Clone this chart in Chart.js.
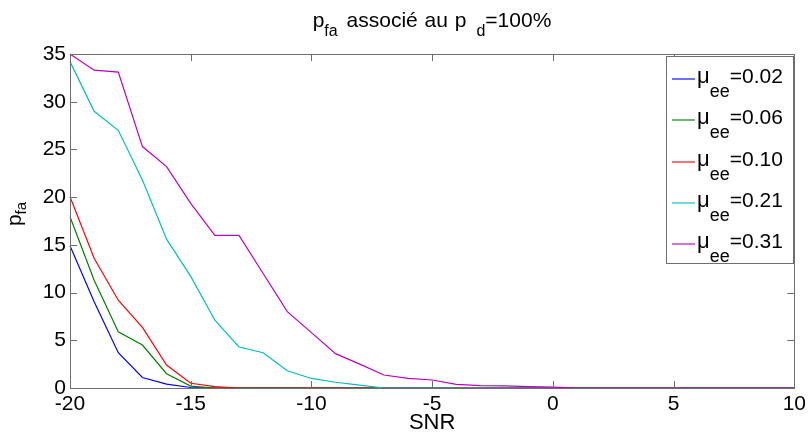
<!DOCTYPE html>
<html>
<head>
<meta charset="utf-8">
<script src="https://cdn.jsdelivr.net/npm/chart.js@4"></script>
<style>
  html, body { margin: 0; padding: 0; background: #fff; }
  #wrap { width: 810px; height: 434px; }
</style>
</head>
<body>
<div id="wrap"><canvas id="c" width="810" height="434"></canvas></div>
<script>
// ---- data ----
const snr = [-20,-19,-18,-17,-16,-15,-14,-13,-12,-11,-10,-9,-8,-7,-6,-5,-4,-3,-2,-1,0,1,2,3,4,5,6,7,8,9,10];
const pfa_002 = [14.9,9.05,3.7,1.1,0.4,0.05,0,0,0,0,0,0,0,0,0,0,0,0,0,0,0,0,0,0,0,0,0,0,0,0,0];
const pfa_006 = [17.95,11.3,5.9,4.5,1.5,0.2,0,0,0,0,0,0,0,0,0,0,0,0,0,0,0,0,0,0,0,0,0,0,0,0,0];
const pfa_010 = [20.05,13.6,9.2,6.35,2.4,0.5,0.15,0,0,0,0,0,0,0,0,0,0,0,0,0,0,0,0,0,0,0,0,0,0,0,0];
const pfa_021 = [34.2,29.0,27.0,21.8,15.6,11.7,7.1,4.3,3.7,1.8,1.0,0.6,0.3,0,0,0,0,0,0,0,0,0,0,0,0,0,0,0,0,0,0];
const pfa_031 = [35,33.3,33.1,25.3,23.2,19.35,16.0,16.0,12.0,8.0,5.8,3.6,2.5,1.36,1.0,0.84,0.38,0.25,0.22,0.15,0.1,0,0,0,0,0,0,0,0,0,0];
const seriesValues = [pfa_002, pfa_006, pfa_010, pfa_021, pfa_031];
const seriesMu = ["0.02","0.06","0.10","0.21","0.31"];
const seriesColors = ["#0000ff","#008000","#ff0000","#00bfbf","#bf00bf"];
const xTicks = [-20,-15,-10,-5,0,5,10];
const yTicks = [0,5,10,15,20,25,30,35];

const FONT = "'Liberation Sans', Arial, Helvetica, sans-serif";

function drawRich(ctx, parts, x, y, align) {
  let total = 0;
  parts.forEach(p => { ctx.font = p.size + "px " + FONT; total += ctx.measureText(p.t).width + (p.gap || 0); });
  let cx = align === 'center' ? x - total / 2 : x;
  ctx.textAlign = 'left';
  ctx.textBaseline = 'alphabetic';
  parts.forEach(p => {
    ctx.font = p.size + "px " + FONT;
    cx += (p.gap || 0);
    ctx.fillText(p.t, cx, y + (p.dy || 0));
    cx += ctx.measureText(p.t).width;
  });
}

const decor = {
  id: 'decor',
  afterDatasetsDraw(chart) {
    const ctx = chart.ctx;
    const a = chart.chartArea;
    const xs = chart.scales.x, ys = chart.scales.y;
    ctx.save();
    // axes box
    ctx.strokeStyle = '#6e6e6e';
    ctx.lineWidth = 1;
    ctx.strokeRect(Math.round(a.left) + 0.5, Math.round(a.top) + 0.5, Math.round(a.right - a.left), Math.round(a.bottom - a.top));
    // inward ticks
    const tl = 7;
    ctx.beginPath();
    xTicks.forEach(v => {
      const px = Math.round(xs.getPixelForValue(v)) + 0.5;
      ctx.moveTo(px, a.bottom); ctx.lineTo(px, a.bottom - tl);
      ctx.moveTo(px, a.top); ctx.lineTo(px, a.top + tl);
    });
    yTicks.forEach(v => {
      const py = Math.round(ys.getPixelForValue(v)) + 0.5;
      ctx.moveTo(a.left, py); ctx.lineTo(a.left + tl, py);
      ctx.moveTo(a.right, py); ctx.lineTo(a.right - tl, py);
    });
    ctx.stroke();

    ctx.fillStyle = '#000';
    // title
    drawRich(ctx, [
      {t: 'p', size: 21}, {t: 'fa', size: 16, dy: 9},
      {t: ' associé', size: 21, gap: 3}, {t: ' au', size: 21, gap: 1}, {t: ' p', size: 21, gap: 1}, {t: 'd', size: 16, dy: 9, gap: 10},
      {t: '=100%', size: 21}
    ], 432, 27, 'center');
    // x label
    drawRich(ctx, [{t: 'SNR', size: 22}], (a.left + a.right) / 2, 429, 'center');
    // y label
    ctx.save();
    ctx.translate(21, 214);
    ctx.rotate(-Math.PI / 2);
    drawRich(ctx, [{t: 'p', size: 21}, {t: 'fa', size: 15, dy: 5}], 0, 0, 'center');
    ctx.restore();

    // legend
    const lx = 666.5, ly = 56.5, lw = 127, lh = 207;
    ctx.fillStyle = '#fff';
    ctx.fillRect(lx, ly, lw, lh);
    ctx.strokeStyle = '#6e6e6e';
    ctx.lineWidth = 1;
    ctx.strokeRect(lx, ly, lw, lh);
    seriesMu.forEach((m, i) => {
      const base = Math.round(83 + i * 41.3);
      ctx.strokeStyle = seriesColors[i];
      ctx.lineWidth = 1.5;
      ctx.globalAlpha = 0.75;
      ctx.beginPath();
      ctx.moveTo(672, base - 4); ctx.lineTo(695, base - 4);
      ctx.stroke();
      ctx.globalAlpha = 1;
      ctx.fillStyle = '#000';
      drawRich(ctx, [{t: 'μ', size: 22}, {t: 'ee', size: 18, dy: 14}, {t: '=' + m, size: 21}], 697, base, 'left');
    });
    ctx.restore();
  }
};

const datasets = seriesValues.map((vals, i) => ({
  label: 'μee=' + seriesMu[i],
  data: snr.map((s, k) => ({x: s, y: vals[k]})),
  borderColor: seriesColors[i],
  backgroundColor: seriesColors[i],
  borderWidth: 1.2,
  pointRadius: 0,
  tension: 0,
  fill: false,
  order: 5 - i,
  clip: 2
}));

new Chart(document.getElementById('c'), {
  type: 'line',
  data: { datasets },
  options: {
    responsive: false,
    animation: false,
    devicePixelRatio: 1,
    layout: { padding: { left: 0, top: 54, right: 13, bottom: 0 } },
    plugins: { legend: { display: false }, tooltip: { enabled: false }, title: { display: false } },
    scales: {
      x: {
        type: 'linear', min: -20, max: 10,
        afterBuildTicks(s) { s.ticks = xTicks.map(v => ({value: v})); },
        afterFit(s) { s.height = 46; },
        grid: { display: false, drawTicks: false },
        border: { display: false },
        ticks: { color: '#000', font: { family: FONT, size: 21 }, padding: 4, maxRotation: 0, autoSkip: false }
      },
      y: {
        type: 'linear', min: 0, max: 35,
        afterBuildTicks(s) { s.ticks = yTicks.map(v => ({value: v})); },
        afterFit(s) { s.width = 70; },
        grid: { display: false, drawTicks: false },
        border: { display: false },
        ticks: { color: '#000', font: { family: FONT, size: 21 }, padding: 4, autoSkip: false }
      }
    }
  },
  plugins: [decor]
});
</script>
</body>
</html>
